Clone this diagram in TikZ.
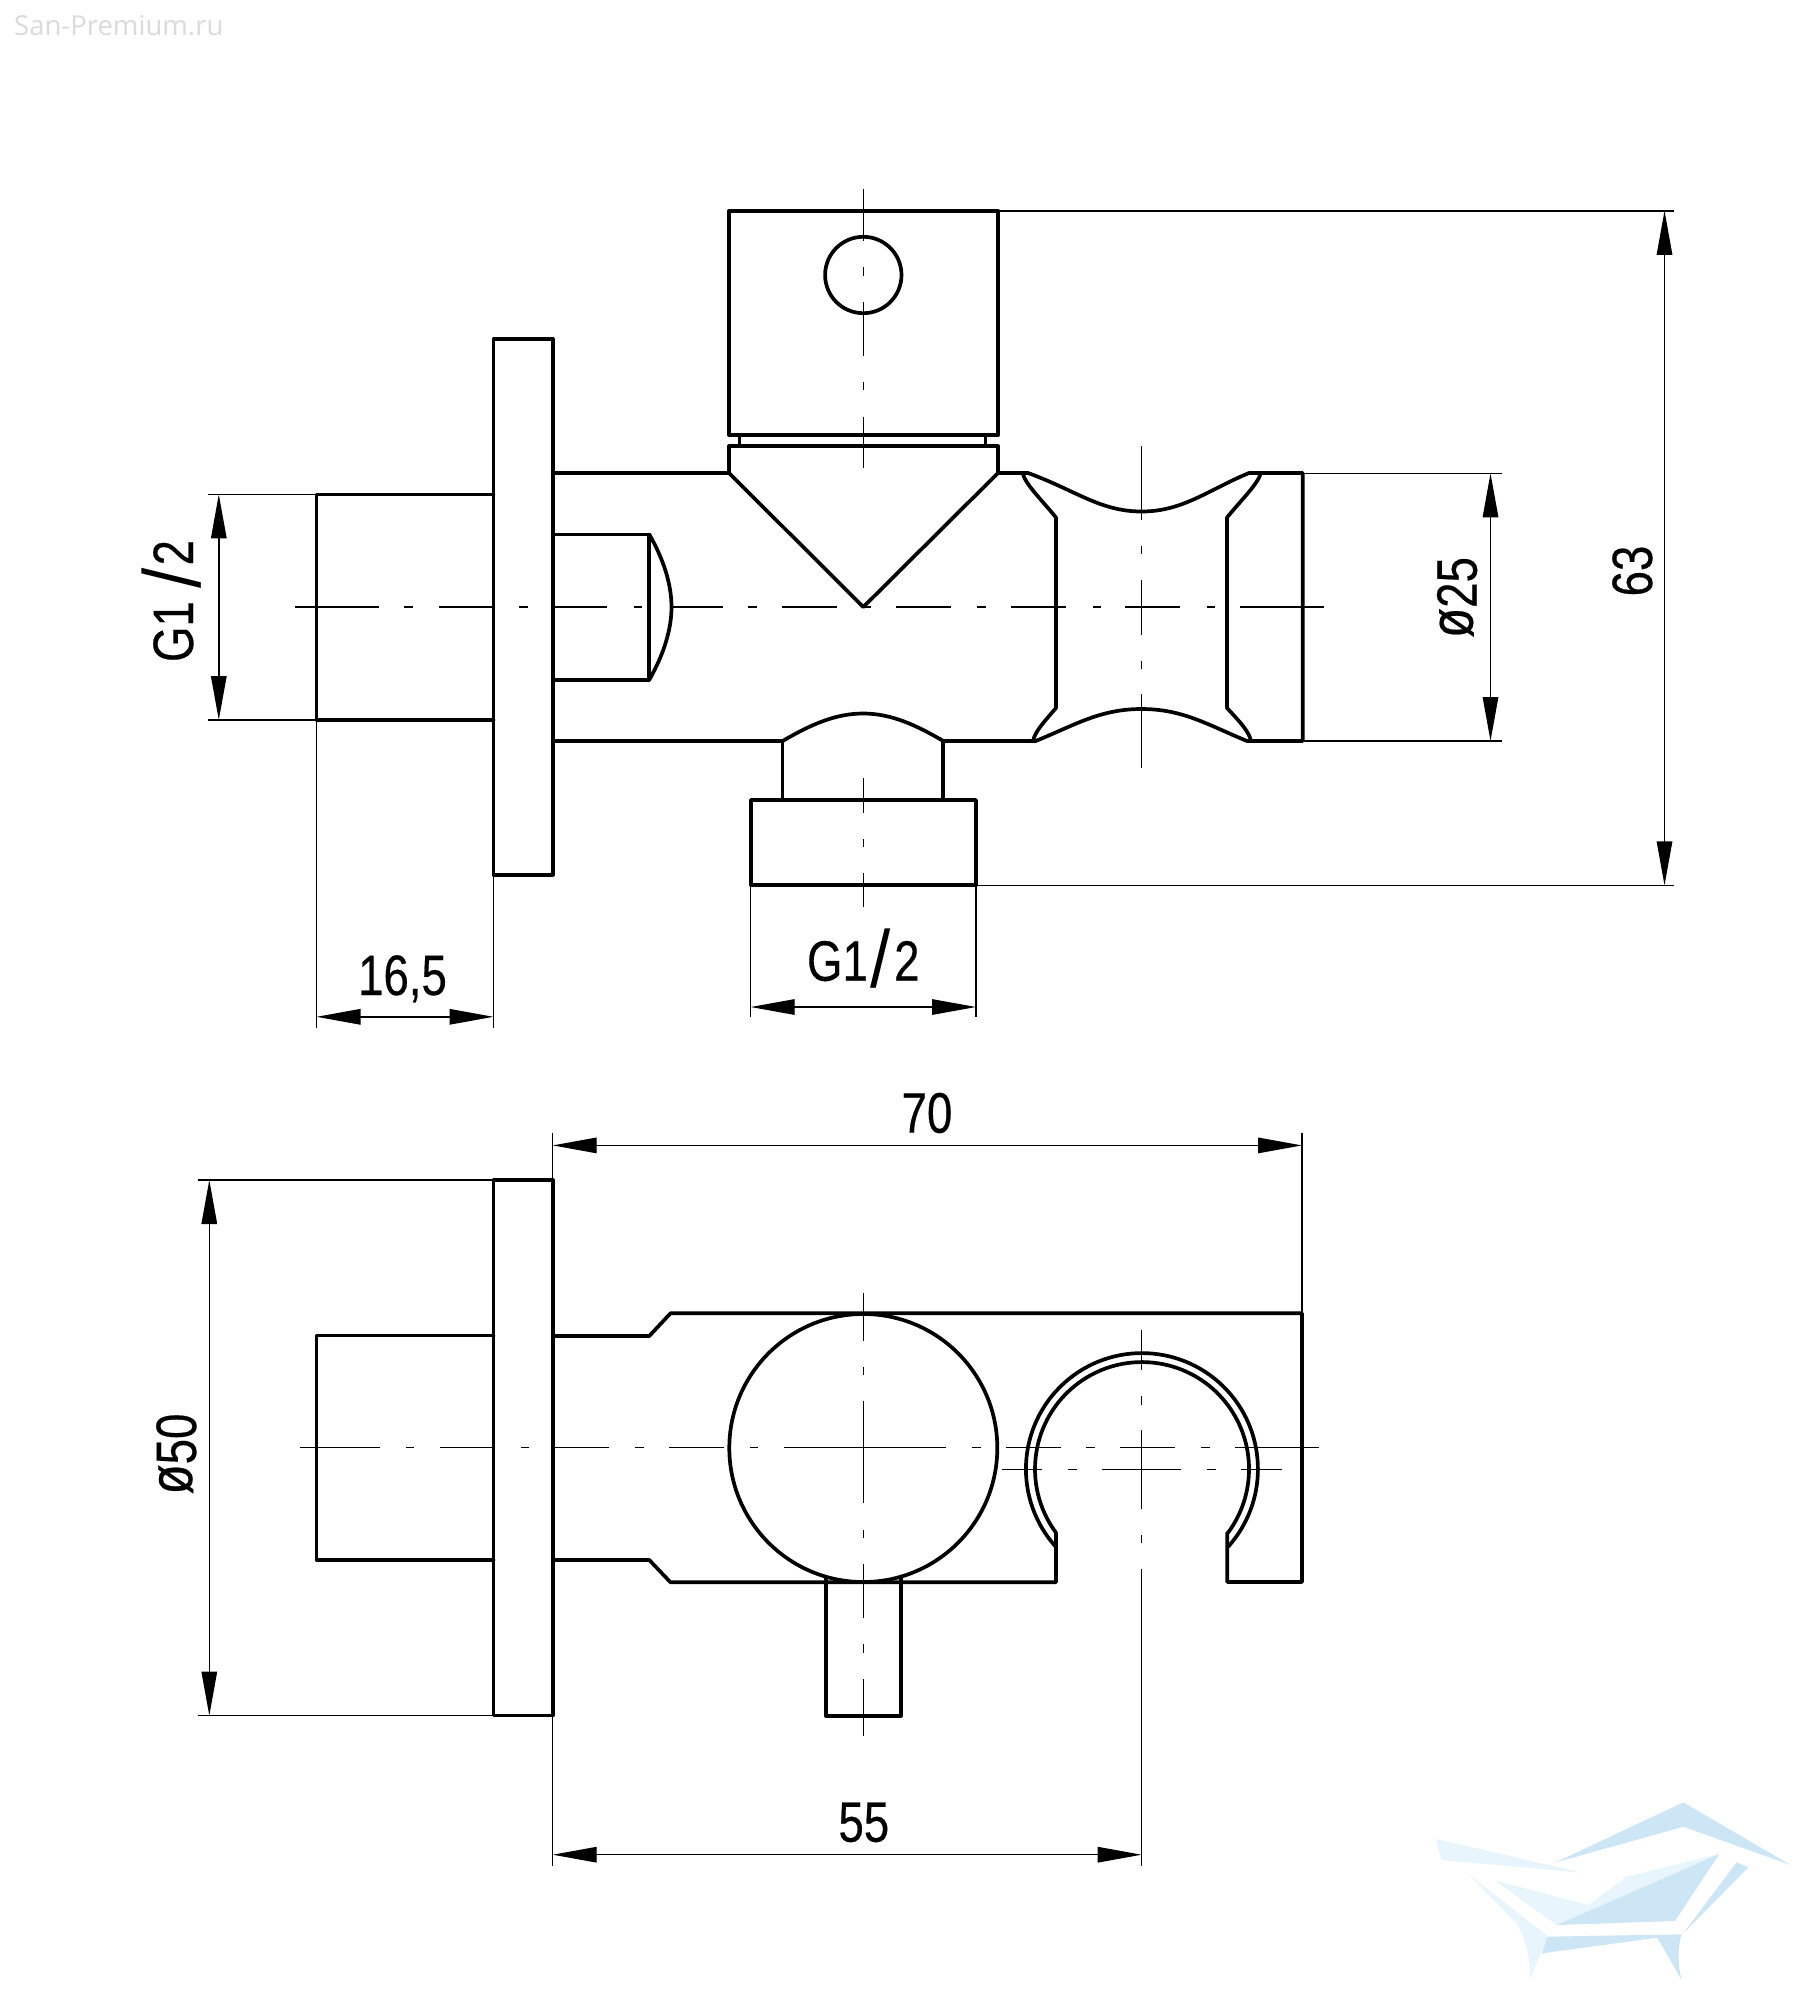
\documentclass[tikz,border=0pt]{standalone}
\usepackage{fontspec}
\usetikzlibrary{arrows.meta}
\newfontfamily\dimf[FakeStretch=0.8,FakeBold=0.35]{Liberation Sans}
\newfontfamily\slashf{Liberation Sans}
\newfontfamily\wmf{Open Sans}
\newcommand{\tallslash}{\kern3pt\raisebox{-7pt}{\scalebox{1.28}[1.42]{\slashf /}}\kern3pt}
\newcommand{\diasign}{\raisebox{4pt}{\scalebox{1.08}{ø}}}
\definecolor{logodark}{HTML}{CDE6F5}
\definecolor{logolight}{HTML}{E8F5FC}
\tikzset{
  outline/.style={line width=3.7pt,line join=round,line cap=round},
  thinline/.style={line width=1.4pt},
  axisline/.style={line width=1.3pt},
  dimarrow/.style={line width=1.4pt,{Triangle[length=44pt,width=15.5pt]}-{Triangle[length=44pt,width=15.5pt]}},
  dimtext/.style={inner sep=0pt,outer sep=0pt,anchor=base,font=\dimf\fontsize{57}{60}\selectfont},
}
\begin{document}
\begin{tikzpicture}[x=1pt,y=1pt,yscale=-1]
\useasboundingbox (0,0) rectangle (1810,2000);
\fill[white] (0,0) rectangle (1810,2000);
% watermark
\node[inner sep=0pt,anchor=base west,text=black!14,font=\wmf\fontsize{27.5}{29}\selectfont] (wm) at (14,35) {San-Premium.ru};
% logo
\begin{scope}[shift={(1400,1780)},x=0.3333pt,y=0.3333pt]
  \fill[logolight] (108,177) -- (545,278) -- (125,240) -- cycle;
  \fill[logolight] (285,302) -- (565,375) -- (680,290) -- (958,222) -- (470,435) -- cycle;
  \fill[logolight] (205,282) -- (350,430) .. controls (380,480) and (392,540) .. (390,600) -- (442,468) -- cycle;
  \fill[logodark] (465,248) -- (850,67) -- (1172,255) -- (850,140) -- cycle;
  \fill[logodark] (470,435) -- (958,222) -- (825,423) -- cycle;
  \fill[logodark] (1010,247) -- (1045,262) -- (850,460) -- cycle;
  \fill[logodark] (442,470) -- (845,463) .. controls (830,510) and (835,560) .. (845,600) -- (772,473) -- (425,520) -- cycle;
\end{scope}
% centre lines, upper view
\foreach \a/\b in {295/379,404/413,439/492,519/528,555/607,634/642,672/723,747.8/756.7,781.7/837,862/871,896.4/951,976.8/985.7,1011/1066,1092.9/1101,1125.4/1180,1206.7/1214.7,1240/1324}
  \draw[axisline] (\a,607) -- (\b,607);
\foreach \a/\b in {189/240.6,267/275.5,301.7/356,382/390,416.5/468,778/813,839/847,873/907}
  \draw[axisline] (863.3,\a) -- (863.3,\b);
\foreach \a/\b in {446.3/520,546/554,579.5/634.5,661/669,694/768}
  \draw[axisline] (1141.5,\a) -- (1141.5,\b);
% centre lines, lower view
\foreach \a/\b in {300/380,406/414,440/492,520.7/529,554/609,634.7/643.5,669/724,750/758,784/946,972/981,1006/1060.7,1086/1095,1120/1175,1200.7/1210,1235/1319}
  \draw[axisline] (\a,1447.6) -- (\b,1447.6);
\foreach \a/\b in {1001.7/1042,1067.7/1076.7,1102/1181,1206.7/1215.7,1241/1281.7}
  \draw[axisline] (\a,1469.3) -- (\b,1469.3);
\foreach \a/\b in {1292.7/1340.7,1366.7/1375,1400.7/1503,1530/1538,1564/1618,1644/1653,1679/1735.7}
  \draw[axisline] (863.3,\a) -- (863.3,\b);
\foreach \a/\b in {1330/1370,1396/1404.7,1430/1509,1535/1543,1569/1866}
  \draw[axisline] (1141.7,\a) -- (1141.7,\b);
% upper view outlines
\draw[outline] (729,210.8) rectangle (998,435.3);
\draw[outline] (863.3,275) circle[radius=38.2pt];
\draw[line width=2.8pt] (739.3,435.3) -- (739.3,446.3) (985.7,435.3) -- (985.7,446.3);
\draw[outline] (729,473) -- (729,446.3) -- (998,446.3) -- (998,473);
\draw[outline] (729,473) -- (863.3,607) -- (998,473);
\draw[outline] (552.7,473) -- (729,473);
\draw[outline] (998,473) -- (1022,473) -- (1028,473)
   .. controls (1075,490) and (1100,511.5) .. (1141.5,511.5)
   .. controls (1183,511.5) and (1208,490) .. (1249,473) -- (1302.7,473) -- (1302.7,741) -- (1247,741)
   .. controls (1208,725) and (1183,709) .. (1141.5,709)
   .. controls (1100,709) and (1075,725) .. (1035.7,741) -- (943.3,741)
   .. controls (916,725) and (891,713.5) .. (863.3,713.5)
   .. controls (835,713.5) and (810,725) .. (782.6,741) -- (552.7,741);
\draw[outline] (1022.5,473) .. controls (1026,485) and (1040,498) .. (1056,517.5) -- (1056,708)
   .. controls (1042,724) and (1035,732) .. (1033,741);
\draw[outline] (1261,473) .. controls (1257,485) and (1243,498) .. (1227,517.5) -- (1227,708)
   .. controls (1242,724) and (1249,732) .. (1251,741);
\draw[outline] (782.6,741) -- (782.6,800) (943.3,741) -- (943.3,800);
\draw[outline] (751,800) rectangle (976,885.3);
\draw[outline] (493.5,339) rectangle (552.7,875);
\draw[outline] (493.5,494.4) -- (316.5,494.4) -- (316.5,720) -- (493.5,720);
\draw[outline] (552.7,534.4) -- (649.3,534.4) -- (649.3,679.8) -- (552.7,679.8);
\draw[outline] (649.3,534.4) .. controls (664,560) and (671.5,585) .. (671.5,607) .. controls (671.5,629) and (664,654) .. (649.3,679.8);
% lower view outlines
\draw[outline] (493.5,1180) rectangle (552.7,1715.6);
\draw[outline] (493.5,1335.6) -- (316.5,1335.6) -- (316.5,1560) -- (493.5,1560);
\draw[outline] (552.7,1336) -- (649.3,1336) -- (670.5,1313.3) -- (1302,1313.3) -- (1302,1582) -- (1227.3,1582) -- (1227.3,1532.7);
\draw[outline] (552.7,1560) -- (649.3,1560) -- (670.5,1582.3) -- (1056,1582.3) -- (1056,1532.7);
\draw[outline] (863.3,1448) circle[radius=134pt];
\draw[outline] (825.7,1579) -- (825.7,1715.7) -- (900.7,1715.7) -- (900.7,1579);
\draw[outline] (1056,1547) arc[start angle=137.8,end angle=402.2,radius=116pt];
\draw[outline] (1056,1532.7) arc[start angle=143.5,end angle=396.5,radius=107pt];
% extension lines
\draw[thinline] (998,210.8) -- (1674,210.8);
\draw[thinline] (976,885.3) -- (1674,885.3);
\draw[thinline] (1302.7,473.3) -- (1501.7,473.3);
\draw[thinline] (1302.7,741) -- (1501.7,741);
\draw[thinline] (208,494.4) -- (316.5,494.4);
\draw[thinline] (208,720) -- (316.5,720);
\draw[thinline] (316.5,720) -- (316.5,1028);
\draw[thinline] (493.5,875) -- (493.5,1028);
\draw[thinline] (750.7,885.3) -- (750.7,1017);
\draw[thinline] (976,885.3) -- (976,1017);
\draw[thinline] (552.7,1133) -- (552.7,1180);
\draw[thinline] (1302,1133) -- (1302,1313.3);
\draw[thinline] (198.3,1180) -- (493.5,1180);
\draw[thinline] (198.3,1715.6) -- (493.5,1715.6);
\draw[thinline] (552.7,1715.6) -- (552.7,1866);
% dimensions
\draw[dimarrow] (1664.5,210.8) -- (1664.5,885.3);
\draw[dimarrow] (1490.5,473.3) -- (1490.5,741);
\draw[dimarrow] (218.8,494.4) -- (218.8,720);
\draw[dimarrow] (316.5,1016.8) -- (493.5,1016.8);
\draw[dimarrow] (750.7,1007) -- (976,1007);
\draw[dimarrow] (552.7,1145.4) -- (1302,1145.4);
\draw[dimarrow] (209.3,1180) -- (209.3,1715.6);
\draw[dimarrow] (552.7,1854.7) -- (1141.7,1854.7);
\node[dimtext] (d165) at (402.5,995) {16,5};
\node[dimtext] (dg2) at (863.3,980.7) {G1\tallslash 2};
\node[dimtext] (d70) at (927,1132.6) {70};
\node[dimtext] (d55) at (863.8,1841.7) {55};
\node[dimtext,rotate=90] (d63) at (1652,571) {63};
\node[dimtext,rotate=90] (d25) at (1476.7,597.5) {\diasign 25};
\node[dimtext,rotate=90] (d50) at (196,1454) {\diasign 50};
\node[dimtext,rotate=90] (dg1) at (193,601) {G1\,\tallslash 2};
\end{tikzpicture}
\end{document}
